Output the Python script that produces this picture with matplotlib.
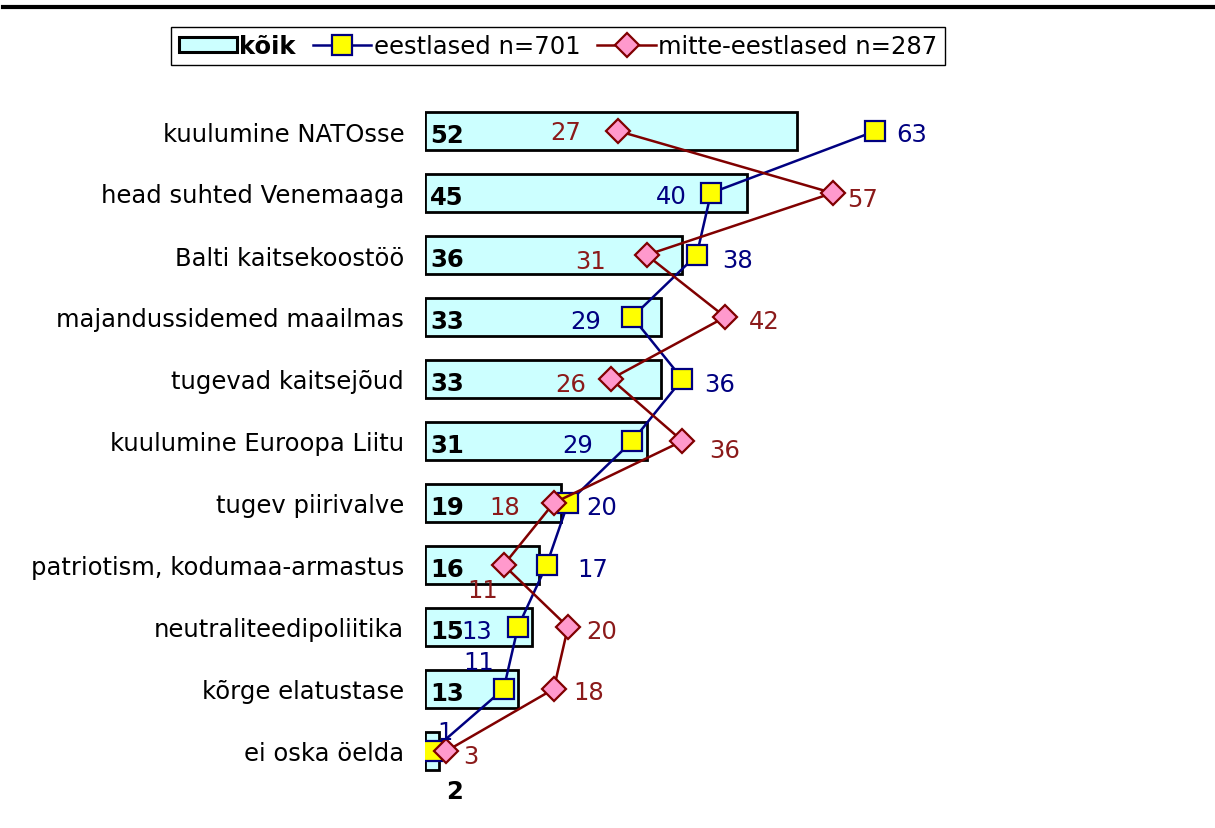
import matplotlib
matplotlib.use("Agg")
import matplotlib.pyplot as plt
from matplotlib.patches import Patch
from matplotlib.lines import Line2D

categories = ["kuulumine NATOsse", "head suhted Venemaaga", "Balti kaitsekoostöö",
              "majandussidemed maailmas", "tugevad kaitsejõud", "kuulumine Euroopa Liitu",
              "tugev piirivalve", "patriotism, kodumaa-armastus", "neutraliteedipoliitika",
              "kõrge elatustase", "ei oska öelda"]
koik = [52, 45, 36, 33, 33, 31, 19, 16, 15, 13, 2]
eestlased = [63, 40, 38, 29, 36, 29, 20, 17, 13, 11, 1]
mitte = [27, 57, 31, 42, 26, 36, 18, 11, 20, 18, 3]
legend_labels = ["kõik", "eestlased n=701", "mitte-eestlased n=287"]

# label placement (pixel offsets, alignment)
est_off = [(21, -3, 'left'), (-24, -3, 'right'), (25, -5, 'left'), (-31, -4, 'right'),
           (22, -5, 'left'), (-39, -4, 'right'), (18, -4, 'left'), (31, -4, 'left'),
           (-26, -4, 'right'), (-25, 27, 'center'), (13, 19, 'center')]
mit_off = [(-37, -1, 'right'), (15, -6, 'left'), (-41, -6, 'right'), (24, -4, 'left'),
           (-25, -5, 'right'), (27, -9, 'left'), (-34, -4, 'right'), (-21, -25, 'center'),
           (18, -4, 'left'), (20, -3, 'left'), (17, -5, 'left')]

FS = 17.5
W, H = 1215, 829
fig = plt.figure(figsize=(W / 100, H / 100), dpi=100)
plt.rcParams['font.family'] = ['DejaVu Sans']

x0px, pxu = 425, 7.15
xmax = 70
ytop, ybot = -0.7, 10.8
row0, rowh = 132, 62
top_px = row0 + ytop * rowh
bot_px = row0 + ybot * rowh
ax = fig.add_axes([x0px / W, 1 - bot_px / H, xmax * pxu / W, (bot_px - top_px) / H])
ax.set_xlim(0, xmax)
ax.set_ylim(ybot, ytop)

ypos = list(range(len(categories)))
bar_color = "#CCFFFF"
navy = "#000080"
dred = "#800000"

ax.barh(ypos, koik, height=0.6, color=bar_color, edgecolor="black", linewidth=2.0, zorder=1)
ax.plot(eestlased, ypos, color=navy, lw=1.8, marker='s', ms=14, mfc="#FFFF00",
        mec=navy, mew=1.6, zorder=3)
ax.plot(mitte, ypos, color=dred, lw=1.8, marker='D', ms=12.5, mfc="#FF99CC",
        mec=dred, mew=1.6, zorder=4)

for i, v in enumerate(koik):
    if i == len(koik) - 1:
        ax.annotate(str(v), (0, i), xytext=(30, -40), textcoords='offset pixels',
                    ha='center', va='center', fontsize=FS, fontweight='bold', color='black', zorder=5)
    else:
        ax.annotate(str(v), (0, i), xytext=(5, -4), textcoords='offset pixels',
                    ha='left', va='center', fontsize=FS, fontweight='bold', color='black', zorder=5)

for i, v in enumerate(eestlased):
    dx, dy, ha = est_off[i]
    ax.annotate(str(v), (v, i), xytext=(dx, dy), textcoords='offset pixels',
                ha=ha, va='center', fontsize=FS, color=navy, zorder=6)
for i, v in enumerate(mitte):
    dx, dy, ha = mit_off[i]
    ax.annotate(str(v), (v, i), xytext=(dx, dy), textcoords='offset pixels',
                ha=ha, va='center', fontsize=FS, color="#8B1A1A", zorder=6)

ax.set_yticks(ypos)
ax.set_yticklabels(categories, fontsize=FS)
ax.tick_params(axis='y', length=0, pad=15)
ax.set_xticks([])
for s in ax.spines.values():
    s.set_visible(False)

handles = [Patch(facecolor=bar_color, edgecolor='black', linewidth=2.2),
           Line2D([], [], color=navy, lw=1.8, marker='s', ms=14, mfc="#FFFF00", mec=navy, mew=1.6),
           Line2D([], [], color=dred, lw=1.8, marker='D', ms=12.5, mfc="#FF99CC", mec=dred, mew=1.6)]
leg = fig.legend(handles, legend_labels, loc='center', bbox_to_anchor=(558 / W, 1 - 47 / H),
                 ncol=3, fontsize=FS, frameon=True, fancybox=False, edgecolor='black',
                 framealpha=1.0,
                 handlelength=2.4, handleheight=0.55, handletextpad=0.1, columnspacing=0.7,
                 borderpad=0.3, borderaxespad=0)
leg.get_frame().set_linewidth(1.0)
leg.get_texts()[0].set_fontweight('bold')

fig.add_artist(Line2D([3 / W, 1], [1 - 8 / H, 1 - 8 / H], color='black', lw=3,
                      transform=fig.transFigure))

fig.savefig("out.png", dpi=100)
